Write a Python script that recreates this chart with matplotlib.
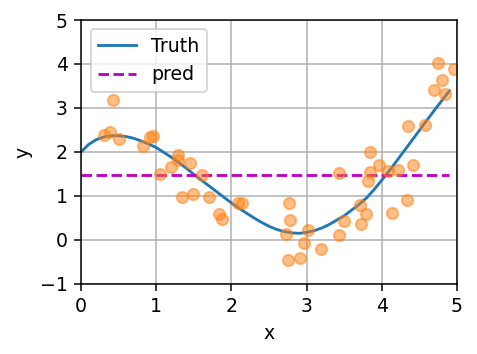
import matplotlib
matplotlib.use('Agg')
import matplotlib.pyplot as plt

# training samples
x_train = [0.31, 0.38, 0.43, 0.50, 0.82, 0.92, 0.95, 1.05, 1.20, 1.29,
           1.29, 1.34, 1.45, 1.49, 1.61, 1.70, 1.84, 1.88, 2.09, 2.14,
           2.72, 2.77, 2.78, 2.75, 2.91, 2.97, 3.02, 3.19, 3.43, 3.43,
           3.50, 3.71, 3.73, 3.79, 3.82, 3.84, 3.84, 3.96, 4.08, 4.21,
           4.14, 4.34, 4.35, 4.42, 4.58, 4.69, 4.75, 4.80, 4.84, 4.96]
y_train = [2.38, 2.46, 3.17, 2.30, 2.13, 2.35, 2.37, 1.51, 1.66, 1.82,
           1.92, 0.97, 1.74, 1.05, 1.48, 0.97, 0.60, 0.48, 0.85, 0.84,
           0.13, 0.83, 0.45, -0.45, -0.41, -0.06, 0.23, -0.21, 1.52, 0.12,
           0.44, 0.80, 0.37, 0.58, 1.33, 1.55, 2.01, 1.71, 1.56, 1.59,
           0.61, 0.90, 2.58, 1.70, 2.61, 3.40, 4.03, 3.64, 3.32, 3.89]

# test grid and truth curve
x_test = [i / 10 for i in range(50)]
y_truth = [2.00, 2.17, 2.28, 2.34, 2.37, 2.37, 2.35, 2.31, 2.25, 2.18,
           2.10, 1.99, 1.88, 1.76, 1.63, 1.49, 1.36, 1.23, 1.10, 0.97,
           0.84, 0.72, 0.61, 0.50, 0.40, 0.31, 0.24, 0.19, 0.16, 0.15,
           0.17, 0.21, 0.27, 0.35, 0.45, 0.55, 0.68, 0.81, 0.96, 1.15,
           1.36, 1.57, 1.80, 2.03, 2.26, 2.49, 2.72, 2.95, 3.17, 3.39]
pred_value = 1.48
y_hat = [pred_value] * len(x_test)

DPI = 136
fig = plt.figure(figsize=(477 / DPI, 354 / DPI), dpi=DPI)
ax = fig.add_axes([0.170, 0.198, 0.788, 0.7455])

ax.plot(x_test, y_truth, '-', color='#1f77b4', lw=1.5, label='Truth')
ax.plot(x_test, y_hat, 'm--', lw=1.5, label='pred')
ax.plot(x_train, y_train, 'o', color='#ff7f0e', alpha=0.5, markersize=6)

ax.set_xlim(0, 5)
ax.set_ylim(-1, 5)
ax.set_xlabel('x')
ax.set_ylabel('y')
ax.grid(True)
ax.legend(loc='upper left')

fig.savefig('out.png', dpi=DPI)
